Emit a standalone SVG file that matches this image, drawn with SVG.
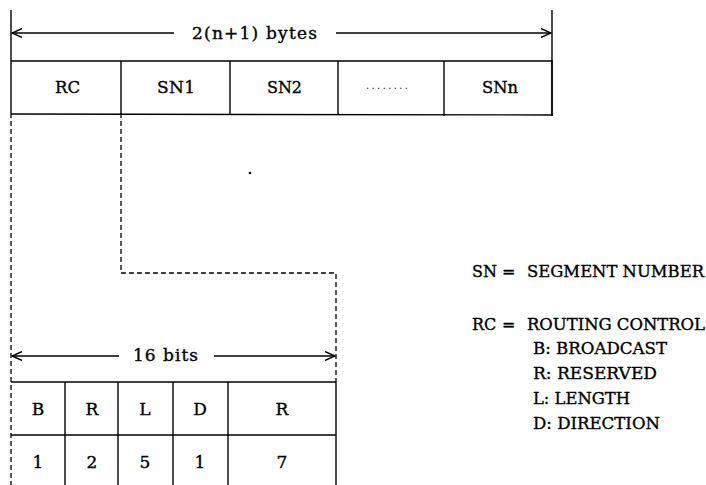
<svg xmlns="http://www.w3.org/2000/svg" width="706" height="485" viewBox="0 0 706 485">
<defs>
<marker id="ah" viewBox="0 0 12 10" refX="11" refY="5" markerWidth="12" markerHeight="10" markerUnits="userSpaceOnUse" orient="auto-start-reverse">
<polyline points="1,0.5 11,5 1,9.5" fill="none" stroke="#000" stroke-width="1.4"/>
</marker>
<style>
.s{stroke:#000;stroke-width:1.4;fill:none}
.d{stroke:#000;stroke-width:1.3;fill:none;stroke-dasharray:5 3}
.t{font-family:"DejaVu Serif","Liberation Serif",serif;font-size:16px;fill:#000;stroke:#000;stroke-width:0.35}
.b{font-size:17px}
.c{text-anchor:middle}
</style>
</defs>
<rect width="706" height="485" fill="#fff"/>
<g id="connectors">
<line class="s" x1="11" y1="10" x2="11" y2="113"/>
<line class="s" x1="552" y1="10" x2="552" y2="116"/>
<line class="s" x1="12" y1="33" x2="174" y2="33" marker-start="url(#ah)"/>
<line class="s" x1="336" y1="33" x2="551" y2="33" marker-end="url(#ah)"/>
<line class="d" x1="11" y1="113" x2="11" y2="485"/>
<polyline class="d" points="121,113 121,273 336,273 336,382"/>
<line class="s" x1="12" y1="356" x2="119" y2="356" marker-start="url(#ah)"/>
<line class="s" x1="214" y1="356" x2="335" y2="356" marker-end="url(#ah)"/>
<circle cx="250" cy="173" r="1.3" fill="#000"/>
</g>
<g id="bytes-label"><text class="t b" x="192" y="39" textLength="125" lengthAdjust="spacing">2(n+1) bytes</text></g>
<g id="frame-table">
<polyline class="s" points="11,61 552,61 552,115 11,114"/>
<line class="s" x1="121" y1="61" x2="121" y2="114"/>
<line class="s" x1="230" y1="61" x2="230" y2="115"/>
<line class="s" x1="338" y1="61" x2="338" y2="115"/>
<line class="s" x1="444" y1="61" x2="444" y2="116"/>
</g>
<g id="rc"><text class="t b" x="55" y="93" textLength="25" lengthAdjust="spacingAndGlyphs">RC</text></g>
<g id="sn1"><text class="t b" x="157" y="93" textLength="38" lengthAdjust="spacing">SN1</text></g>
<g id="sn2"><text class="t b" x="267" y="93" textLength="35" lengthAdjust="spacingAndGlyphs">SN2</text></g>
<g id="dots"><text x="366" y="89" style="font-family:'DejaVu Sans',sans-serif;font-size:10px;fill:#222" textLength="42" lengthAdjust="spacing">........</text></g>
<g id="snn"><text class="t b" x="482" y="93" textLength="36" lengthAdjust="spacingAndGlyphs">SNn</text></g>
<g id="bits-label"><text class="t b" x="133" y="361" textLength="65" lengthAdjust="spacing">16 bits</text></g>
<g id="rc-table">
<line class="s" x1="11" y1="382" x2="336" y2="382"/>
<line class="s" x1="11" y1="435" x2="336" y2="435"/>
<line class="s" x1="336" y1="382" x2="336" y2="485"/>
<line class="s" x1="65" y1="382" x2="65" y2="485"/>
<line class="s" x1="118" y1="382" x2="118" y2="485"/>
<line class="s" x1="173" y1="382" x2="173" y2="485"/>
<line class="s" x1="228" y1="382" x2="228" y2="485"/>
<text class="t b c" x="38" y="415">B</text>
<text class="t b c" x="92" y="415">R</text>
<text class="t b c" x="145" y="415">L</text>
<text class="t b c" x="200" y="415">D</text>
<text class="t b c" x="282" y="415">R</text>
<text class="t b c" x="38" y="468">1</text>
<text class="t b c" x="92" y="468">2</text>
<text class="t b c" x="145" y="468">5</text>
<text class="t b c" x="200" y="468">1</text>
<text class="t b c" x="282" y="468">7</text>
</g>
<g id="legend">
<text class="t" x="472" y="277">SN</text>
<text class="t" x="502" y="277">=</text>
<text class="t" x="527" y="277" textLength="177" lengthAdjust="spacingAndGlyphs">SEGMENT NUMBER</text>
<text class="t" x="472" y="330">RC</text>
<text class="t" x="502" y="330">=</text>
<text class="t" x="527" y="330" textLength="178" lengthAdjust="spacingAndGlyphs">ROUTING CONTROL</text>
<text class="t" x="533" y="354" textLength="134" lengthAdjust="spacingAndGlyphs">B: BROADCAST</text>
<text class="t" x="533" y="379" textLength="124" lengthAdjust="spacingAndGlyphs">R: RESERVED</text>
<text class="t" x="533" y="404" textLength="97" lengthAdjust="spacingAndGlyphs">L: LENGTH</text>
<text class="t" x="533" y="429" textLength="127" lengthAdjust="spacingAndGlyphs">D: DIRECTION</text>
</g>
</svg>
